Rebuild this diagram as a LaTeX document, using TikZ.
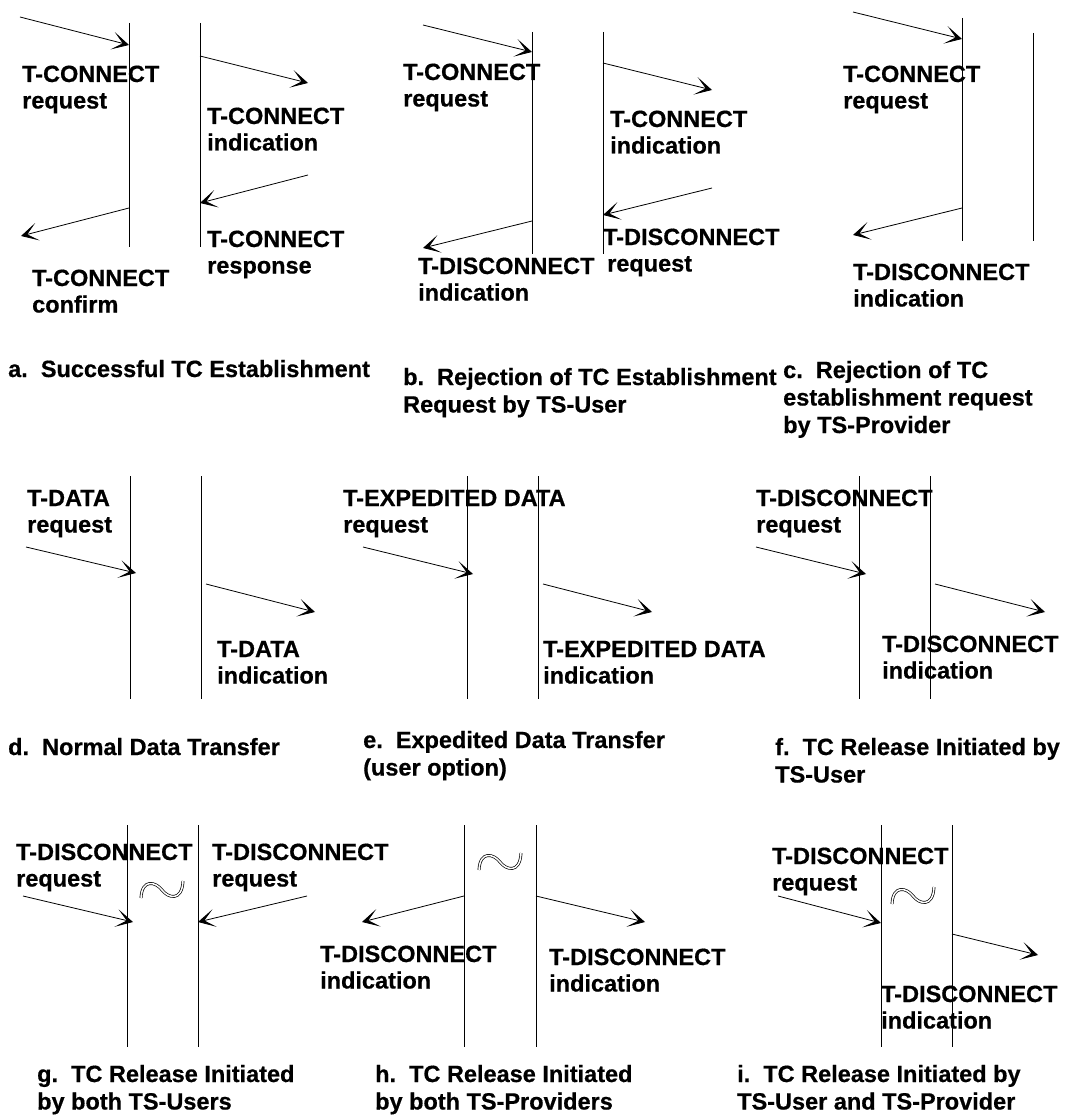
\documentclass[tikz,border=0pt]{standalone}
\usepackage{fontspec}
\setmainfont{Liberation Sans}[BoldFont={Liberation Sans Bold}, BoldFeatures={FakeBold=0.6}]
\usetikzlibrary{arrows.meta}

\newcommand{\lblfont}{\fontsize{23.5}{26.5}\selectfont\bfseries}
\newcommand{\capfont}{\fontsize{23.5}{27.5}\selectfont\bfseries}
\newcommand{\tildemark}[2]{\draw[wave, shift={(#1,#2)}] (-21,8) .. controls (-20,-12) and (-6,-8) .. (0,0) .. controls (6,8) and (20,12) .. (21,-9);}

\tikzset{
  lifeline/.style={line width=0.8pt},
  msg/.style={line width=0.8pt, -{Stealth[length=17pt, width=18pt, inset=10.5pt]}},
  lbl/.style={anchor=base west, align=left, inner sep=0pt, font=\lblfont},
  caption/.style={anchor=base west, align=left, inner sep=0pt, font=\capfont},
  wave/.style={double, double distance=1.5pt, line width=0.7pt}
}

\begin{document}
\begin{tikzpicture}[x=1pt, y=-1pt]
    \useasboundingbox (0,0) rectangle (1083,1115);
    % a. successful establishment
    \coordinate (aL1) at (129,23);  \coordinate (aL2) at (129,247);
    \coordinate (aR1) at (200,23);  \coordinate (aR2) at (200,247);
    \draw[lifeline] (aL1) -- (aL2); \draw[lifeline] (aR1) -- (aR2);
    \coordinate (aReqS) at (20,17);   \coordinate (aReqE) at (129,45);
    \coordinate (aIndS) at (200,56);  \coordinate (aIndE) at (308,83);
    \coordinate (aRspS) at (308,175); \coordinate (aRspE) at (200,203);
    \coordinate (aCnfS) at (129,208); \coordinate (aCnfE) at (21,236);
    \draw[msg] (aReqS) -- (aReqE); \draw[msg] (aIndS) -- (aIndE);
    \draw[msg] (aRspS) -- (aRspE); \draw[msg] (aCnfS) -- (aCnfE);
    % (label positions are the baseline of the last line)
    \node[lbl] (aReq) at (22,108.5)  {T-CONNECT\\request};
    \node[lbl] (aInd) at (207,150.5) {T-CONNECT\\indication};
    \node[lbl] (aRsp) at (207,273.5) {T-CONNECT\\response};
    \node[lbl] (aCnf) at (32,312.5)  {T-CONNECT\\confirm};
    \node[caption] (aCap) at (8,377) {a.\ \ Successful TC Establishment};
    % b. rejection by TS-user
    \coordinate (bL1) at (532,32);  \coordinate (bL2) at (532,254);
    \coordinate (bR1) at (603,32);  \coordinate (bR2) at (603,254);
    \draw[lifeline] (bL1) -- (bL2); \draw[lifeline] (bR1) -- (bR2);
    \coordinate (bReqS) at (423,25);  \coordinate (bReqE) at (532,52);
    \coordinate (bIndS) at (603,63);  \coordinate (bIndE) at (712,90);
    \coordinate (bDrqS) at (712,188); \coordinate (bDrqE) at (603,215);
    \coordinate (bDinS) at (532,221); \coordinate (bDinE) at (423,248);
    \draw[msg] (bReqS) -- (bReqE); \draw[msg] (bIndS) -- (bIndE);
    \draw[msg] (bDrqS) -- (bDrqE); \draw[msg] (bDinS) -- (bDinE);
    \node[lbl] (bReq) at (403,106.5) {T-CONNECT\\request};
    \node[lbl] (bInd) at (610,153.5) {T-CONNECT\\indication};
    \node[lbl] (bDrq) at (603,271.5) {T-DISCONNECT\\\hspace*{4pt}request};
    \node[lbl] (bDin) at (418,300.5) {T-DISCONNECT\\indication};
    \node[caption] (bCap) at (403,412.5) {b.\ \ Rejection of TC Establishment\\Request by TS-User};
    % c. rejection by TS-provider
    \coordinate (cL1) at (962,18);  \coordinate (cL2) at (962,241);
    \coordinate (cR1) at (1033,33); \coordinate (cR2) at (1033,241);
    \draw[lifeline] (cL1) -- (cL2); \draw[lifeline] (cR1) -- (cR2);
    \coordinate (cReqS) at (853,12);  \coordinate (cReqE) at (962,39);
    \coordinate (cDinS) at (962,208); \coordinate (cDinE) at (853,235);
    \draw[msg] (cReqS) -- (cReqE); \draw[msg] (cDinS) -- (cDinE);
    \node[lbl] (cReq) at (843,108.5) {T-CONNECT\\request};
    \node[lbl] (cDin) at (853,306.5) {T-DISCONNECT\\indication};
    \node[caption] (cCap) at (783,433) {c.\ \ Rejection of TC\\establishment request\\by TS-Provider};
    % d. normal data
    \coordinate (dL1) at (130,476); \coordinate (dL2) at (130,699);
    \coordinate (dR1) at (201,476); \coordinate (dR2) at (201,699);
    \draw[lifeline] (dL1) -- (dL2); \draw[lifeline] (dR1) -- (dR2);
    \coordinate (dReqS) at (26,547);  \coordinate (dReqE) at (136,573);
    \coordinate (dIndS) at (206,584); \coordinate (dIndE) at (315,612);
    \draw[msg] (dReqS) -- (dReqE); \draw[msg] (dIndS) -- (dIndE);
    \node[lbl] (dReq) at (27,532.5)  {T-DATA\\request};
    \node[lbl] (dInd) at (217,683.5) {T-DATA\\indication};
    \node[caption] (dCap) at (8,755) {d.\ \ Normal Data Transfer};
    % e. expedited data
    \coordinate (eL1) at (467,476); \coordinate (eL2) at (467,699);
    \coordinate (eR1) at (538,476); \coordinate (eR2) at (538,699);
    \draw[lifeline] (eL1) -- (eL2); \draw[lifeline] (eR1) -- (eR2);
    \coordinate (eReqS) at (363,547); \coordinate (eReqE) at (473,574);
    \coordinate (eIndS) at (543,584); \coordinate (eIndE) at (652,612);
    \draw[msg] (eReqS) -- (eReqE); \draw[msg] (eIndS) -- (eIndE);
    \node[lbl] (eReq) at (343,532.5) {T-EXPEDITED DATA\\request};
    \node[lbl] (eInd) at (543,683.5) {T-EXPEDITED DATA\\indication};
    \node[caption] (eCap) at (363,775.5) {e.\ \ Expedited Data Transfer\\(user option)};
    % f. release by TS-user
    \coordinate (fL1) at (859,476); \coordinate (fL2) at (859,699);
    \coordinate (fR1) at (930,476); \coordinate (fR2) at (930,699);
    \draw[lifeline] (fL1) -- (fL2); \draw[lifeline] (fR1) -- (fR2);
    \coordinate (fReqS) at (756,547); \coordinate (fReqE) at (866,574);
    \coordinate (fIndS) at (935,584); \coordinate (fIndE) at (1045,612);
    \draw[msg] (fReqS) -- (fReqE); \draw[msg] (fIndS) -- (fIndE);
    \node[lbl] (fReq) at (756,532.5) {T-DISCONNECT\\request};
    \node[lbl] (fInd) at (882,678.5) {T-DISCONNECT\\indication};
    \node[caption] (fCap) at (775,782.5) {f.\ \ TC Release Initiated by\\TS-User};
    % g. release by both users
    \coordinate (gL1) at (127,825); \coordinate (gL2) at (127,1047);
    \coordinate (gR1) at (198,825); \coordinate (gR2) at (198,1047);
    \draw[lifeline] (gL1) -- (gL2); \draw[lifeline] (gR1) -- (gR2);
    \coordinate (gRq1S) at (23,896);  \coordinate (gRq1E) at (133,922);
    \coordinate (gRq2S) at (307,896); \coordinate (gRq2E) at (198,922);
    \draw[msg] (gRq1S) -- (gRq1E); \draw[msg] (gRq2S) -- (gRq2E);
    \tildemark{162}{890}
    \node[lbl] (gRq1) at (16,886.5)  {T-DISCONNECT\\request};
    \node[lbl] (gRq2) at (212,886.5) {T-DISCONNECT\\request};
    \node[caption] (gCap) at (37,1109.5) {g.\ \ TC Release Initiated\\by both TS-Users};
    % h. release by both providers
    \coordinate (hL1) at (464,825); \coordinate (hL2) at (464,1047);
    \coordinate (hR1) at (536,825); \coordinate (hR2) at (536,1047);
    \draw[lifeline] (hL1) -- (hL2); \draw[lifeline] (hR1) -- (hR2);
    \coordinate (hIn1S) at (464,896); \coordinate (hIn1E) at (362,922);
    \coordinate (hIn2S) at (536,896); \coordinate (hIn2E) at (645,922);
    \draw[msg] (hIn1S) -- (hIn1E); \draw[msg] (hIn2S) -- (hIn2E);
    \tildemark{500}{862}
    \node[lbl] (hIn1) at (320,988.5) {T-DISCONNECT\\indication};
    \node[lbl] (hIn2) at (549,991.5) {T-DISCONNECT\\indication};
    \node[caption] (hCap) at (375,1109.5) {h.\ \ TC Release Initiated\\by both TS-Providers};
    % i. release by user and provider
    \coordinate (iL1) at (881,825); \coordinate (iL2) at (881,1047);
    \coordinate (iR1) at (952,825); \coordinate (iR2) at (952,1047);
    \draw[lifeline] (iL1) -- (iL2); \draw[lifeline] (iR1) -- (iR2);
    \coordinate (iReqS) at (778,896); \coordinate (iReqE) at (881,923);
    \coordinate (iIndS) at (952,934); \coordinate (iIndE) at (1038,955);
    \draw[msg] (iReqS) -- (iReqE); \draw[msg] (iIndS) -- (iIndE);
    \tildemark{913}{896}
    \node[lbl] (iReq) at (772,890.5) {T-DISCONNECT\\request};
    \node[lbl] (iInd) at (881,1028.5) {T-DISCONNECT\\indication};
    \node[caption] (iCap) at (737,1109.5) {i.\ \ TC Release Initiated by\\TS-User and TS-Provider};
\end{tikzpicture}
\end{document}
